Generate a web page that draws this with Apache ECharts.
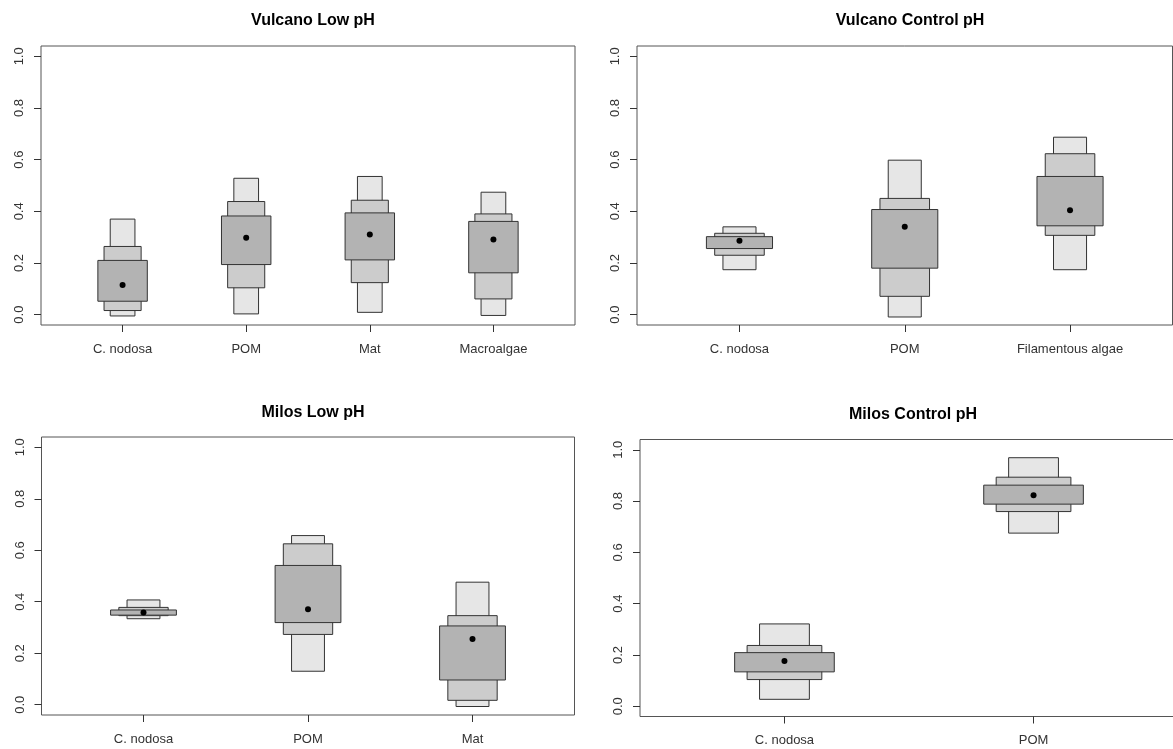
<!DOCTYPE html>
<html><head><meta charset="utf-8">
<script src="https://cdn.jsdelivr.net/npm/echarts@6/dist/echarts.min.js"></script>
<style>html,body{margin:0;padding:0;background:#fff}#c{width:1173px;height:749px}</style>
</head><body><div id="c"></div>
<script>
// ---------- DATA ----------
const yTicks = [0, 0.2, 0.4, 0.6, 0.8, 1.0];
const titles = ['Vulcano Low pH', 'Vulcano Control pH', 'Milos Low pH', 'Milos Control pH'];

// Vulcano Low pH
const vlCats  = ['C. nodosa', 'POM', 'Mat', 'Macroalgae'];
const vlLo95  = [-0.005, 0.003, 0.009, -0.003];
const vlHi95  = [0.370, 0.528, 0.535, 0.474];
const vlLo75  = [0.016, 0.104, 0.124, 0.061];
const vlHi75  = [0.264, 0.438, 0.443, 0.390];
const vlLo50  = [0.052, 0.194, 0.212, 0.162];
const vlHi50  = [0.210, 0.382, 0.394, 0.361];
const vlMode  = [0.115, 0.298, 0.310, 0.291];

// Vulcano Control pH
const vcCats  = ['C. nodosa', 'POM', 'Filamentous algae'];
const vcLo95  = [0.174, -0.009, 0.174];
const vcHi95  = [0.340, 0.598, 0.687];
const vcLo75  = [0.230, 0.071, 0.307];
const vcHi75  = [0.315, 0.450, 0.623];
const vcLo50  = [0.256, 0.180, 0.344];
const vcHi50  = [0.302, 0.407, 0.535];
const vcMode  = [0.286, 0.340, 0.404];

// Milos Low pH
const mlCats  = ['C. nodosa', 'POM', 'Mat'];
const mlLo95  = [0.334, 0.130, -0.007];
const mlHi95  = [0.407, 0.657, 0.476];
const mlLo75  = [0.346, 0.273, 0.017];
const mlHi75  = [0.378, 0.625, 0.346];
const mlLo50  = [0.348, 0.319, 0.096];
const mlHi50  = [0.368, 0.541, 0.306];
const mlMode  = [0.358, 0.371, 0.255];

// Milos Control pH
const mcCats  = ['C. nodosa', 'POM'];
const mcLo95  = [0.027, 0.675];
const mcHi95  = [0.321, 0.969];
const mcLo75  = [0.104, 0.759];
const mcHi75  = [0.237, 0.893];
const mcLo50  = [0.134, 0.788];
const mcHi50  = [0.209, 0.862];
const mcMode  = [0.176, 0.823];

// ---------- BUILD ----------
const panels = [
  {cats: vlCats, lo95: vlLo95, hi95: vlHi95, lo75: vlLo75, hi75: vlHi75, lo50: vlLo50, hi50: vlHi50, mode: vlMode},
  {cats: vcCats, lo95: vcLo95, hi95: vcHi95, lo75: vcLo75, hi75: vcHi75, lo50: vcLo50, hi50: vcHi50, mode: vcMode},
  {cats: mlCats, lo95: mlLo95, hi95: mlHi95, lo75: mlLo75, hi75: mlHi75, lo50: mlLo50, hi50: mlHi50, mode: mlMode},
  {cats: mcCats, lo95: mcLo95, hi95: mcHi95, lo75: mcLo75, hi75: mcHi75, lo50: mcLo50, hi50: mcHi50, mode: mcMode}
];
const grids = [
  {left: 41, top: 46, width: 534, height: 279},
  {left: 637, top: 46, width: 535.5, height: 279},
  {left: 41.5, top: 437, width: 533, height: 278},
  {left: 640, top: 439.5, width: 538, height: 277}
];
const titlePos = [[308, 8], [905, 8], [308, 400], [908, 402]];
const FONT = '"Liberation Sans", Arial, sans-serif';

const option = {
  animation: false,
  backgroundColor: '#fff',
  title: titles.map((t, i) => ({
    text: t, left: titlePos[i][0], top: titlePos[i][1], textAlign: 'center',
    textStyle: {fontFamily: FONT, fontSize: 16, fontWeight: 'bold', color: '#000'}
  })),
  grid: grids.map(g => Object.assign({show: true, borderColor: '#555', borderWidth: 1,
    backgroundColor: 'transparent', outerBoundsMode: 'none', containLabel: false}, g)),
  xAxis: panels.map((p, i) => {
    const n = p.cats.length;
    const ext = 0.04 * n;
    const vals = p.cats.map((c, k) => k + 1);
    return {
      type: 'value', gridIndex: i, min: 0.5 - ext, max: n + 0.5 + ext, position: 'bottom',
      splitLine: {show: false}, axisLine: {show: false, onZero: false},
      axisTick: {show: true, inside: false, customValues: vals, length: 7, lineStyle: {color: '#333'}},
      axisLabel: {customValues: vals, margin: 17.5, fontFamily: FONT, fontSize: 13, color: '#333',
        formatter: v => p.cats[Math.round(v) - 1] || ''}
    };
  }),
  yAxis: panels.map((p, i) => ({
    type: 'value', gridIndex: i, min: -0.04, max: 1.04, position: 'left',
    splitLine: {show: false}, axisLine: {show: false, onZero: false},
    axisTick: {show: true, inside: false, customValues: yTicks, length: 7, lineStyle: {color: '#333'}},
    axisLabel: {customValues: yTicks, rotate: 90, margin: 15, fontFamily: FONT, fontSize: 13, color: '#333',
      formatter: v => v.toFixed(1)}
  })),
  series: panels.map((p, i) => ({
    type: 'custom', xAxisIndex: i, yAxisIndex: i, clip: false,
    data: p.cats.map((c, k) => [k + 1, p.lo95[k], p.hi95[k], p.lo75[k], p.hi75[k], p.lo50[k], p.hi50[k], p.mode[k]]),
    renderItem: function (params, api) {
      const x = api.value(0);
      const box = (lo, hi, hw, fill) => {
        const a = api.coord([x - hw, hi]);
        const b = api.coord([x + hw, lo]);
        return {type: 'rect', shape: {x: a[0], y: a[1], width: b[0] - a[0], height: b[1] - a[1]},
          style: {fill: fill, stroke: '#333', lineWidth: 1}};
      };
      const m = api.coord([x, api.value(7)]);
      return {type: 'group', children: [
        box(api.value(1), api.value(2), 0.1, '#e6e6e6'),
        box(api.value(3), api.value(4), 0.15, '#cccccc'),
        box(api.value(5), api.value(6), 0.2, '#b3b3b3'),
        {type: 'circle', shape: {cx: m[0], cy: m[1], r: 3}, style: {fill: '#000'}}
      ]};
    }
  }))
};
const chart = echarts.init(document.getElementById('c'), null, {renderer: 'canvas'});
chart.setOption(option);
</script></body></html>
